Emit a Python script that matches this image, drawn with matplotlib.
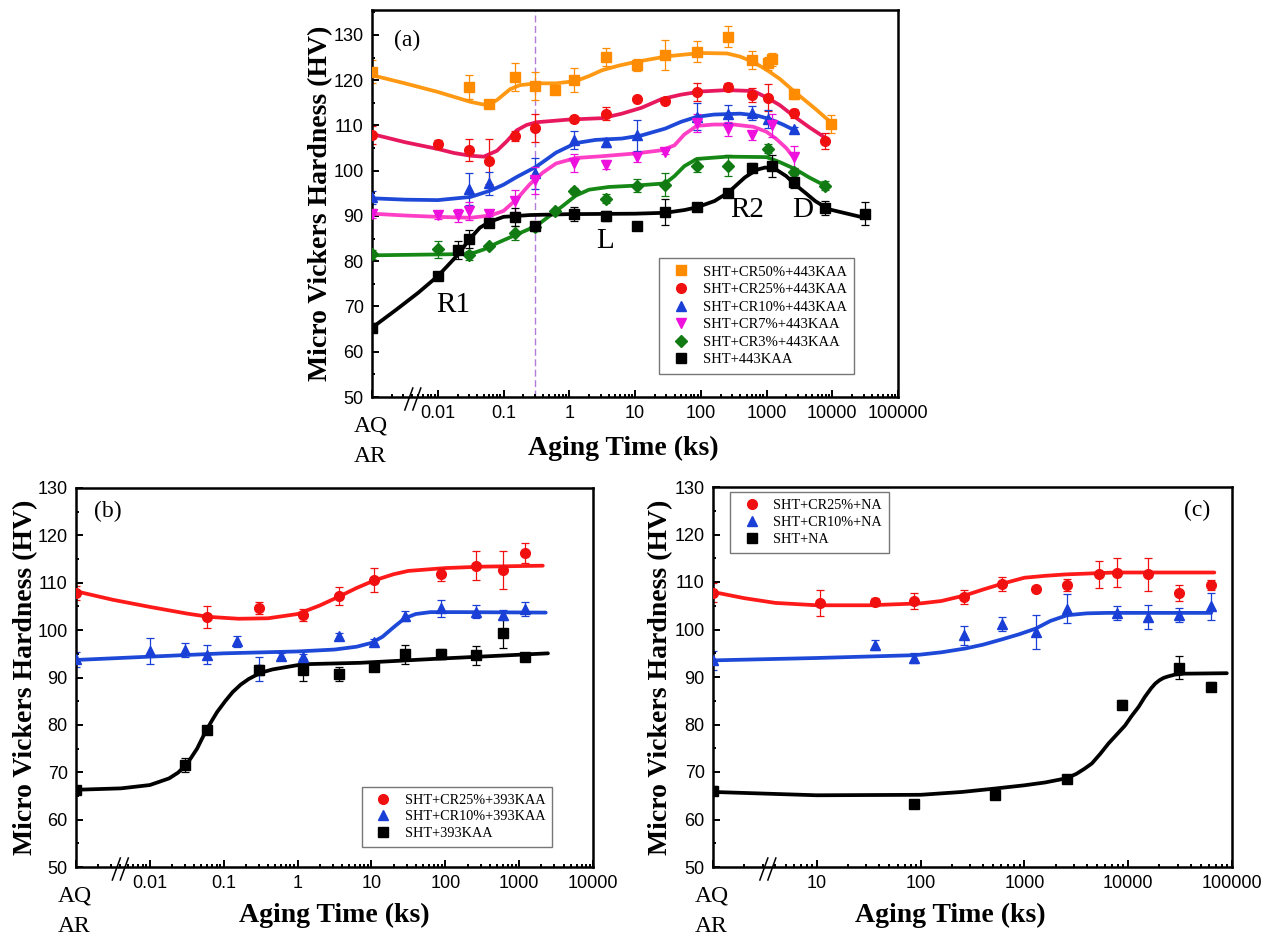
import numpy as np
import matplotlib
matplotlib.use('Agg')
import matplotlib.pyplot as plt
from matplotlib import ticker

SERIF = 'Liberation Serif'
SANS = 'Liberation Sans'

# ---------------- panel (a) : 443 K aging ----------------
a_cr50_t = [0.001, 0.03, 0.06, 0.15, 0.3, 0.6, 1.2, 3.6, 10.8, 28.8, 86.4, 259.2, 604.8, 1036.8, 1209.6, 2592, 9600]
a_cr50_hv = [121.9, 118.5, 114.8, 120.7, 118.7, 117.9, 120.0, 125.2, 123.4, 125.6, 126.3, 129.6, 124.4, 123.7, 124.6, 116.9, 110.4]
a_cr50_err = [2.5, 2.6, 0.4, 3.0, 3.0, 0.6, 2.7, 2.0, 1.3, 3.3, 2.3, 2.3, 2.0, 1.5, 1.4, 1.1, 2.0]
a_cr50_fit_logt = [-3, -2.5, -2, -1.5, -1.3, -1.2, -1.1, -1.0, -0.9, -0.75, -0.5, -0.2, 0.1, 0.3, 0.5, 0.75, 1.0, 1.5, 2.0, 2.4, 2.6, 2.8, 3.0, 3.2, 3.43, 3.74, 4.0]
a_cr50_fit_hv = [121.1, 119.3, 117.4, 115.2, 114.6, 114.8, 115.6, 116.8, 118.0, 118.9, 119.3, 119.3, 119.8, 120.9, 122.2, 123.2, 124.0, 125.3, 126.0, 125.9, 125.2, 124.0, 122.3, 120.3, 117.4, 113.7, 110.4]

a_cr25_t = [0.001, 0.01, 0.03, 0.06, 0.15, 0.3, 1.2, 3.6, 10.8, 28.8, 86.4, 259.2, 604.8, 1036.8, 2592, 7776]
a_cr25_hv = [107.8, 105.8, 104.6, 102.1, 107.6, 109.5, 111.4, 112.6, 115.8, 115.3, 117.4, 118.5, 116.7, 116.1, 112.7, 106.5]
a_cr25_err = [2.0, 1.0, 2.4, 5.0, 1.1, 3.1, 0.7, 1.5, 0.7, 0.5, 2.0, 0.8, 1.5, 3.0, 1.0, 1.8]
a_cr25_fit_logt = [-3, -2.5, -2, -1.75, -1.5, -1.3, -1.1, -0.95, -0.8, -0.65, -0.5, 0, 0.5, 0.8, 1.1, 1.4, 1.7, 2.0, 2.4, 2.8, 3.0, 3.2, 3.43, 3.65, 3.88]
a_cr25_fit_hv = [108.1, 106.3, 104.8, 103.9, 103.3, 103.1, 104.4, 106.5, 108.9, 110.1, 110.7, 111.3, 111.6, 112.6, 113.9, 115.8, 116.8, 117.5, 117.8, 117.6, 116.2, 114.5, 111.9, 109.6, 107.4]

a_cr10_t = [0.001, 0.03, 0.06, 0.3, 1.2, 3.6, 10.8, 86.4, 259.2, 604.8, 1036.8, 2592]
a_cr10_hv = [94.1, 95.9, 97.2, 99.4, 106.7, 106.3, 107.8, 111.9, 112.6, 112.7, 111.5, 109.2]
a_cr10_err = [1.5, 3.5, 2.5, 3.5, 2.0, 1.0, 3.5, 3.0, 2.0, 1.5, 2.0, 0.5]
a_cr10_fit_logt = [-3, -2.5, -2, -1.5, -1.2, -1.0, -0.8, -0.5, -0.2, 0.1, 0.4, 0.8, 1.1, 1.46, 1.7, 1.94, 2.2, 2.6, 2.85, 3.05, 3.25, 3.43]
a_cr10_fit_hv = [93.9, 93.6, 93.5, 94.2, 95.6, 96.9, 98.6, 100.9, 104.0, 106.1, 106.8, 107.1, 107.8, 109.3, 110.8, 111.9, 112.4, 112.6, 112.2, 111.4, 110.2, 108.9]

a_cr7_t = [0.001, 0.01, 0.02, 0.03, 0.06, 0.15, 0.3, 1.2, 3.6, 10.8, 28.8, 86.4, 259.2, 604.8, 1209.6, 2592]
a_cr7_hv = [90.5, 90.1, 90.1, 91.0, 90.5, 93.3, 97.9, 101.6, 101.3, 103.0, 104.1, 110.5, 109.2, 107.8, 110.0, 103.0]
a_cr7_err = [1.0, 0.8, 1.5, 2.0, 0.5, 2.5, 3.0, 2.0, 1.0, 1.0, 0.5, 2.0, 1.5, 1.0, 2.5, 2.5]
a_cr7_fit_logt = [-3, -2.5, -2, -1.5, -1.2, -1.0, -0.8, -0.6, -0.4, -0.2, 0.1, 0.5, 1.0, 1.4, 1.6, 1.75, 1.94, 2.2, 2.5, 2.8, 3.0, 3.15, 3.3, 3.43]
a_cr7_fit_hv = [90.5, 90.1, 89.8, 89.6, 90.1, 91.1, 93.7, 97.0, 99.6, 101.6, 102.8, 103.2, 103.8, 104.5, 105.6, 108.0, 109.9, 110.2, 110.2, 109.7, 108.6, 107.0, 105.0, 102.6]

a_cr3_t = [0.001, 0.01, 0.03, 0.06, 0.15, 0.3, 0.6, 1.2, 3.6, 10.8, 28.8, 86.4, 259.2, 1036.8, 2592, 7776]
a_cr3_hv = [81.5, 82.6, 81.3, 83.4, 86.2, 87.6, 91.1, 95.5, 93.8, 96.7, 96.9, 101.1, 101.1, 104.8, 99.6, 96.7]
a_cr3_err = [1.0, 1.8, 1.0, 0.5, 1.5, 1.0, 0.5, 0.7, 1.0, 1.5, 2.5, 1.5, 2.3, 1.0, 1.0, 1.0]
a_cr3_fit_logt = [-3, -2.5, -2, -1.5, -1.3, -1.1, -0.8, -0.5, -0.3, -0.1, 0.1, 0.3, 0.6, 1.0, 1.46, 1.6, 1.75, 1.94, 2.4, 3.0, 3.2, 3.43, 3.65, 3.89]
a_cr3_fit_hv = [81.3, 81.4, 81.5, 81.6, 82.6, 84.0, 85.9, 87.8, 90.0, 92.2, 94.5, 95.8, 96.4, 96.7, 97.2, 98.8, 101.0, 102.6, 103.1, 103.0, 101.9, 100.4, 98.5, 96.7]

a_sht_t = [0.001, 0.01, 0.02, 0.03, 0.06, 0.15, 0.3, 1.2, 3.6, 10.8, 28.8, 86.4, 259.2, 604.8, 1209.6, 2592, 7776, 31536]
a_sht_hv = [65.3, 76.7, 82.4, 85.0, 88.5, 89.8, 87.8, 90.4, 90.0, 87.8, 90.9, 92.0, 95.0, 100.7, 101.0, 97.6, 91.7, 90.5]
a_sht_err = [1.0, 0.5, 2.0, 2.0, 1.0, 2.0, 0.5, 1.6, 1.2, 0.3, 2.8, 0.5, 0.5, 1.0, 2.5, 1.5, 1.5, 2.5]
a_sht_fit_logt = [-3, -2.63, -2.3, -2, -1.85, -1.69, -1.52, -1.36, -1.21, -1.0, -0.6, 0, 1.0, 1.46, 1.75, 1.94, 2.21, 2.42, 2.67, 2.85, 2.98, 3.13, 3.3, 3.43, 3.6, 3.74, 3.94, 4.2, 4.49]
a_sht_fit_hv = [65.3, 69.3, 73.0, 76.7, 79.0, 81.5, 84.8, 87.4, 88.7, 89.8, 90.2, 90.4, 90.5, 90.7, 91.3, 91.9, 93.3, 95.2, 98.5, 100.2, 100.7, 100.4, 98.8, 97.0, 95.0, 93.3, 91.5, 90.6, 89.6]

# ---------------- panel (b) : 393 K aging ----------------
b_cr25_t = [0.001, 0.06, 0.3, 1.2, 3.6, 10.8, 86.4, 259.2, 604.8, 1209.6]
b_cr25_hv = [107.8, 102.8, 104.6, 103.2, 107.2, 110.6, 111.8, 113.6, 112.7, 116.2]
b_cr25_err = [1.5, 2.3, 1.3, 1.2, 1.8, 2.6, 1.4, 3.0, 4.0, 2.1]
b_cr25_fit_logt = [-3, -2.5, -2, -1.5, -1.2, -0.8, -0.4, 0, 0.3, 0.55, 0.8, 1.04, 1.3, 1.5, 2.0, 2.5, 3.32]
b_cr25_fit_hv = [108.2, 106.4, 104.9, 103.5, 102.8, 102.4, 102.5, 103.4, 105.2, 107.0, 108.9, 110.5, 111.8, 112.5, 113.1, 113.4, 113.6]

b_cr10_t = [0.001, 0.01, 0.03, 0.06, 0.15, 0.3, 0.6, 1.2, 3.6, 10.8, 28.8, 86.4, 259.2, 604.8, 1209.6]
b_cr10_hv = [93.8, 95.6, 95.8, 94.8, 97.6, 91.8, 94.6, 94.4, 98.8, 97.4, 103.0, 104.6, 103.9, 103.2, 104.5]
b_cr10_err = [1.5, 2.8, 1.5, 2.0, 1.2, 2.5, 0.5, 0.5, 0.6, 0.8, 1.0, 1.8, 1.3, 1.0, 1.5]
b_cr10_fit_logt = [-3, -2, -1, 0, 0.5, 0.8, 1.0, 1.15, 1.3, 1.45, 1.6, 1.8, 2.2, 3.36]
b_cr10_fit_hv = [93.7, 94.4, 95.1, 95.5, 95.9, 96.5, 97.3, 98.6, 100.6, 102.5, 103.4, 103.8, 103.8, 103.7]

b_sht_t = [0.001, 0.03, 0.06, 0.3, 1.2, 3.6, 10.8, 28.8, 86.4, 259.2, 604.8, 1209.6]
b_sht_hv = [66.2, 71.6, 79.0, 91.6, 91.6, 90.7, 92.2, 94.9, 95.0, 94.7, 99.4, 94.4]
b_sht_err = [0.8, 1.5, 0.6, 1.0, 2.3, 1.5, 0.7, 2.0, 1.0, 2.0, 3.2, 0.5]
b_sht_fit_logt = [-3, -2.39, -2, -1.74, -1.62, -1.51, -1.44, -1.36, -1.3, -1.23, -1.16, -1.09, -0.98, -0.88, -0.77, -0.66, -0.5, -0.34, 0.07, 0.85, 1.94, 3.39]
b_sht_fit_hv = [66.3, 66.6, 67.3, 68.7, 69.9, 71.5, 73.1, 75.0, 76.9, 79.0, 80.9, 82.7, 85.0, 86.9, 88.5, 89.7, 91.0, 91.7, 92.8, 93.1, 94.0, 95.1]

# ---------------- panel (c) : natural aging ----------------
c_cr25_t = [1, 10.8, 36, 86.4, 259.2, 604.8, 1296, 2592, 5184, 7776, 15552, 31104, 62208]
c_cr25_hv = [107.7, 105.6, 105.8, 106.0, 106.8, 109.6, 108.5, 109.4, 111.6, 112.0, 111.6, 107.7, 109.4]
c_cr25_err = [2.0, 2.7, 0.8, 1.7, 1.5, 1.5, 0.7, 1.2, 2.8, 3.1, 3.5, 1.7, 1.0]
c_cr25_fit_logt = [0, 0.3, 0.6, 1.0, 1.5, 2.0, 2.2, 2.43, 2.6, 2.78, 3.0, 3.2, 3.4, 3.87, 4.83]
c_cr25_fit_hv = [107.9, 106.6, 105.6, 105.1, 105.1, 105.5, 106.0, 107.2, 108.4, 109.6, 110.9, 111.3, 111.6, 112.0, 112.0]

c_cr10_t = [1, 36, 86.4, 259.2, 604.8, 1296, 2592, 7776, 15552, 31104, 62208]
c_cr10_hv = [93.5, 96.7, 94.0, 98.8, 101.1, 99.5, 104.4, 103.5, 102.6, 103.1, 104.9]
c_cr10_err = [2.0, 1.0, 1.0, 2.0, 1.5, 3.5, 3.0, 1.5, 2.5, 1.5, 2.8]
c_cr10_fit_logt = [0, 1.0, 1.95, 2.2, 2.43, 2.6, 2.78, 2.95, 3.11, 3.25, 3.41, 3.6, 3.8, 4.8]
c_cr10_fit_hv = [93.5, 94.0, 94.6, 95.2, 96.0, 96.8, 97.9, 99.0, 100.2, 101.8, 103.0, 103.4, 103.5, 103.5]

c_sht_t = [1, 86.4, 518.4, 2592, 8640, 31104, 62208]
c_sht_hv = [66.1, 63.3, 65.1, 68.6, 84.2, 92.0, 88.0]
c_sht_err = [1.0, 0.3, 0.3, 0.5, 1.0, 2.5, 1.0]
c_sht_fit_logt = [0, 1.0, 2.0, 2.4, 2.71, 3.0, 3.2, 3.41, 3.5, 3.58, 3.65, 3.73, 3.81, 3.89, 3.97, 4.03, 4.10, 4.16, 4.22, 4.26, 4.3, 4.34, 4.38, 4.45, 4.54, 4.95]
c_sht_fit_hv = [65.8, 65.1, 65.2, 65.8, 66.5, 67.2, 67.8, 68.7, 69.6, 70.7, 71.8, 73.8, 76.0, 77.9, 79.8, 81.7, 83.7, 85.8, 87.6, 88.6, 89.3, 89.8, 90.1, 90.5, 90.7, 90.8]


fig = plt.figure(figsize=(12.66, 9.39), dpi=100)
FW, FH = 1266, 939

ax_a = fig.add_axes([372/FW, 1-397/FH, 526/FW, 387/FH])
ax_b = fig.add_axes([76/FW, 1-867/FH, 517/FW, 379/FH])
ax_c = fig.add_axes([713/FW, 1-867/FH, 519/FW, 380/FH])


def series(ax, t, hv, err, fit_logt, fit_hv, mk, mc, lc, ms, label):
    ax.plot(10**np.array(fit_logt), fit_hv, '-', color=lc, lw=2.7, zorder=2,
            solid_capstyle='round', solid_joinstyle='round')
    ax.errorbar(t, hv, yerr=err, fmt='none', ecolor=mc, elinewidth=0.9,
                capsize=3, capthick=0.9, zorder=2.5)
    ax.plot(t, hv, ls='none', marker=mk, color=mc, mec=mc, ms=ms, zorder=3, label=label)


def style(ax, xmin, xmax, ymax, brk):
    ax.set_xscale('log')
    ax.set_xlim(xmin, xmax)
    ax.set_ylim(50, ymax)
    ax.yaxis.set_major_locator(ticker.MultipleLocator(10))
    ax.yaxis.set_minor_locator(ticker.MultipleLocator(5))
    ax.xaxis.set_major_locator(ticker.LogLocator(base=10, numticks=20))
    ax.xaxis.set_minor_locator(ticker.LogLocator(base=10, subs=np.arange(2, 10), numticks=20))
    ax.xaxis.set_minor_formatter(ticker.NullFormatter())
    ax.xaxis.set_major_formatter(ticker.FuncFormatter(
        lambda v, p: '' if v <= xmin * 1.01 else '%g' % v))
    ax.tick_params(which='both', direction='in', top=False, right=False, width=1.4)
    ax.tick_params(which='major', length=5, labelsize=13, pad=6)
    ax.tick_params(which='minor', length=2.5)
    for lab in ax.get_xticklabels() + ax.get_yticklabels():
        lab.set_fontfamily(SANS)
    for sp in ax.spines.values():
        sp.set_linewidth(1.8)
    ax.set_ylabel('Micro Vickers Hardness (HV)', fontfamily=SERIF, fontweight='bold', fontsize=20)
    ax.set_xlabel('Aging Time (ks)', fontfamily=SERIF, fontweight='bold', fontsize=20)
    # AQ / AR under the left end of the axis
    ax.annotate('AQ', xy=(0, 0), xycoords='axes fraction', xytext=(-1, -21),
                textcoords='offset points', ha='center', va='center',
                fontfamily=SERIF, fontsize=17)
    ax.annotate('AR', xy=(0, 0), xycoords='axes fraction', xytext=(-1, -43),
                textcoords='offset points', ha='center', va='center',
                fontfamily=SERIF, fontsize=17)
    # axis break marks "//"
    pos = ax.get_position()
    wpx, hpx = pos.width * FW, pos.height * FH
    for k in range(2):
        x0 = brk + k * 8 / wpx
        ax.plot([x0 - 4 / wpx, x0 + 4 / wpx], [-13 / hpx, 9 / hpx], color='k', lw=1.1,
                transform=ax.transAxes, clip_on=False, zorder=5)


def legend(ax, anchor, size, spacing):
    leg = ax.legend(loc='upper left', bbox_to_anchor=anchor, prop={'family': SERIF, 'size': size},
                    frameon=True, fancybox=False, edgecolor='#555555', borderpad=0.5,
                    handlelength=2.0, handletextpad=0.5, labelspacing=spacing, borderaxespad=0)
    leg.get_frame().set_linewidth(1.0)


# ---- (a)
series(ax_a, a_cr50_t, a_cr50_hv, a_cr50_err, a_cr50_fit_logt, a_cr50_fit_hv, 's', '#FF8C00', '#FF9812', 6.5, 'SHT+CR50%+443KAA')
series(ax_a, a_cr25_t, a_cr25_hv, a_cr25_err, a_cr25_fit_logt, a_cr25_fit_hv, 'o', '#F01010', '#E8185F', 7, 'SHT+CR25%+443KAA')
series(ax_a, a_cr10_t, a_cr10_hv, a_cr10_err, a_cr10_fit_logt, a_cr10_fit_hv, '^', '#1A3FD6', '#1D48D8', 7.5, 'SHT+CR10%+443KAA')
series(ax_a, a_cr7_t, a_cr7_hv, a_cr7_err, a_cr7_fit_logt, a_cr7_fit_hv, 'v', '#EE10DD', '#FF3FC6', 7.5, 'SHT+CR7%+443KAA')
series(ax_a, a_cr3_t, a_cr3_hv, a_cr3_err, a_cr3_fit_logt, a_cr3_fit_hv, 'D', '#127A12', '#168816', 6.5, 'SHT+CR3%+443KAA')
series(ax_a, a_sht_t, a_sht_hv, a_sht_err, a_sht_fit_logt, a_sht_fit_hv, 's', 'black', 'black', 6.5, 'SHT+443KAA')
style(ax_a, 1e-3, 1e5, 135.5, 0.07)
ax_a.axvline(0.3, color='#B07CD8', lw=1.0, ls=(0, (5, 2.5)), zorder=1)
ax_a.text(0.066, 0.922, '(a)', transform=ax_a.transAxes, ha='center', va='center', fontfamily=SERIF, fontsize=17)
for txt, tx, ty in [('R1', 0.0169, 70.3), ('L', 3.5, 84.5), ('R2', 515, 91.3), ('D', 3510, 91.3)]:
    ax_a.text(tx, ty, txt, ha='center', va='center', fontfamily=SERIF, fontsize=21)
legend(ax_a, (0.546, 0.359), 10.5, 0.3)
ax_a.yaxis.set_label_coords(-0.074, 0.5)
ax_a.xaxis.set_label_coords(0.477, -0.101)

# ---- (b)
series(ax_b, b_cr25_t, b_cr25_hv, b_cr25_err, b_cr25_fit_logt, b_cr25_fit_hv, 'o', '#F01010', '#FF1A1A', 7, 'SHT+CR25%+393KAA')
series(ax_b, b_cr10_t, b_cr10_hv, b_cr10_err, b_cr10_fit_logt, b_cr10_fit_hv, '^', '#1A3FD6', '#1D48D8', 7.5, 'SHT+CR10%+393KAA')
series(ax_b, b_sht_t, b_sht_hv, b_sht_err, b_sht_fit_logt, b_sht_fit_hv, 's', 'black', 'black', 6.5, 'SHT+393KAA')
style(ax_b, 1e-3, 1e4, 130, 0.078)
ax_b.text(0.062, 0.937, '(b)', transform=ax_b.transAxes, ha='center', va='center', fontfamily=SERIF, fontsize=17)
legend(ax_b, (0.553, 0.212), 10.3, 0.25)
ax_b.yaxis.set_label_coords(-0.073, 0.5)
ax_b.xaxis.set_label_coords(0.5, -0.095)

# ---- (c)
series(ax_c, c_cr25_t, c_cr25_hv, c_cr25_err, c_cr25_fit_logt, c_cr25_fit_hv, 'o', '#F01010', '#FF1A1A', 7, 'SHT+CR25%+NA')
series(ax_c, c_cr10_t, c_cr10_hv, c_cr10_err, c_cr10_fit_logt, c_cr10_fit_hv, '^', '#1A3FD6', '#1D48D8', 7.5, 'SHT+CR10%+NA')
series(ax_c, c_sht_t, c_sht_hv, c_sht_err, c_sht_fit_logt, c_sht_fit_hv, 's', 'black', 'black', 6.5, 'SHT+NA')
style(ax_c, 1, 1e5, 130, 0.098)
ax_c.text(0.933, 0.937, '(c)', transform=ax_c.transAxes, ha='center', va='center', fontfamily=SERIF, fontsize=17)
legend(ax_c, (0.033, 0.986), 10.3, 0.25)
ax_c.yaxis.set_label_coords(-0.076, 0.5)
ax_c.xaxis.set_label_coords(0.457, -0.095)

fig.savefig('out.png', dpi=100)
